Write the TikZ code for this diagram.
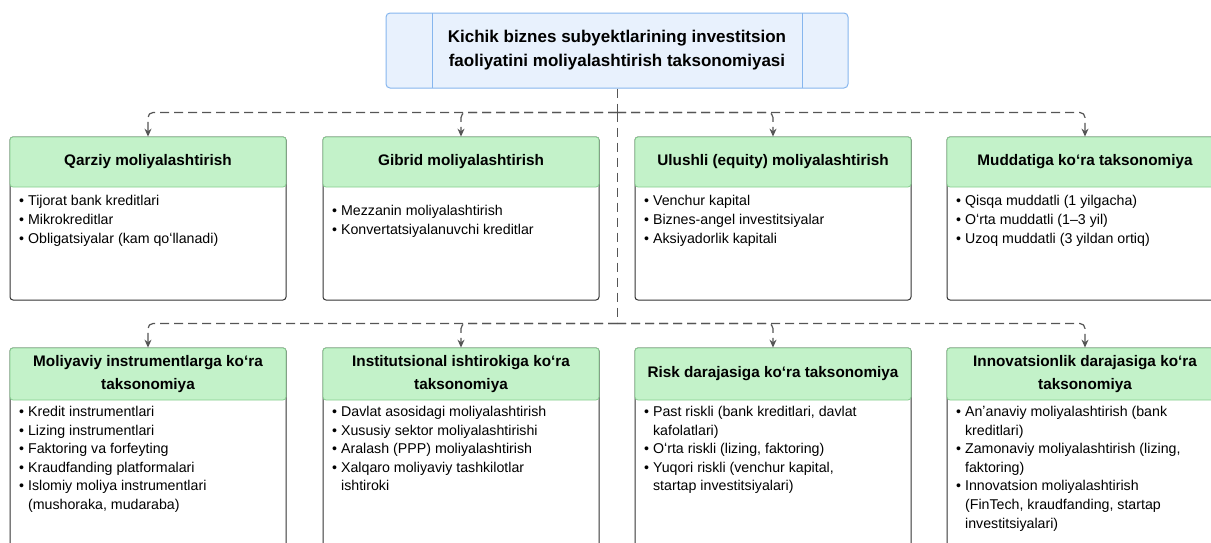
\documentclass[tikz,border=0pt]{standalone}
\usepackage{fontspec}
\setmainfont{Liberation Sans}
\usetikzlibrary{arrows.meta}
\definecolor{hdrfill}{HTML}{C3F2C9}
\definecolor{hdrline}{HTML}{86CF8F}
\definecolor{boxline}{HTML}{333333}
\definecolor{topfill}{HTML}{E8F1FD}
\definecolor{topline}{HTML}{86B6EE}
\definecolor{connclr}{HTML}{555555}
\newcommand{\bitem}{\textbullet\ }
\newcommand{\bcont}{\hphantom{\textbullet\ }}
\begin{document}
\begin{tikzpicture}[x=1pt,y=-1pt,
  bodybox/.style={draw=boxline, line width=1pt, fill=white, rounded corners=3pt, minimum width=276pt, inner sep=0pt},
  hdrbox/.style={draw=hdrline, line width=0.8pt, fill=hdrfill, rounded corners=3pt, minimum width=276pt, minimum height=50pt, inner sep=0pt, align=center, font=\fontsize{15.3}{23}\selectfont\bfseries},
  bodytext/.style={anchor=north west, inner sep=0pt, align=left, font=\fontsize{14.2}{18.6}\selectfont},
  topbox/.style={draw=topline, line width=1pt, fill=topfill, rounded corners=4pt, minimum width=462pt, minimum height=75pt, inner sep=0pt, align=center, font=\fontsize{17}{24}\selectfont\bfseries},
  conn/.style={draw=connclr, line width=1.2pt, dash pattern=on 9pt off 5pt, rounded corners=5pt},
  tip/.style={-{Stealth[length=8pt,width=7pt]}}
]
\useasboundingbox (0,0) rectangle (1211,542);
\clip (0,0) rectangle (1211,542);

% top node
\node[topbox] (top) at (617,50.5) {Kichik biznes subyektlarining investitsion\\faoliyatini moliyalashtirish taksonomiyasi};
\draw[topline, line width=1pt] (432,13) -- (432,88);
\draw[topline, line width=1pt] (802,13) -- (802,88);

% row 1 boxes
\foreach \n/\cx in {b1/148,b2/461,b3/773,b4/1085}{
  \node[bodybox, minimum height=163pt] (\n) at (\cx,218.5) {};
}
\node[hdrbox] (h1) at (148,162) {Qarziy moliyalashtirish};
\node[hdrbox] (h2) at (461,162) {Gibrid moliyalashtirish};
\node[hdrbox] (h3) at (773,162) {Ulushli (equity) moliyalashtirish};
\node[hdrbox] (h4) at (1085,162) {Muddatiga koʻra taksonomiya};

\node[bodytext] (t1) at (19,195.5) {\bitem Tijorat bank kreditlari\\\bitem Mikrokreditlar\\\bitem Obligatsiyalar (kam qoʻllanadi)};
\node[bodytext] (t2) at (332,205) {\bitem Mezzanin moliyalashtirish\\\bitem Konvertatsiyalanuvchi kreditlar};
\node[bodytext] (t3) at (644,195.5) {\bitem Venchur kapital\\\bitem Biznes-angel investitsiyalar\\\bitem Aksiyadorlik kapitali};
\node[bodytext] (t4) at (956,195.5) {\bitem Qisqa muddatli (1 yilgacha)\\\bitem Oʻrta muddatli (1–3 yil)\\\bitem Uzoq muddatli (3 yildan ortiq)};

% row 2 boxes
\foreach \n/\cx in {c1/148,c2/461,c3/773,c4/1085}{
  \node[bodybox, minimum height=220pt] (\n) at (\cx,458) {};
}
\node[hdrbox, minimum height=52pt] (g1) at (148,374) {Moliyaviy instrumentlarga koʻra\\taksonomiya};
\node[hdrbox, minimum height=52pt] (g2) at (461,374) {Institutsional ishtirokiga koʻra\\taksonomiya};
\node[hdrbox, minimum height=52pt] (g3) at (773,374) {Risk darajasiga koʻra taksonomiya};
\node[hdrbox, minimum height=52pt] (g4) at (1085,374) {Innovatsionlik darajasiga koʻra\\taksonomiya};

\node[bodytext] (s1) at (19,406) {\bitem Kredit instrumentlari\\\bitem Lizing instrumentlari\\\bitem Faktoring va forfeyting\\\bitem Kraudfanding platformalari\\\bitem Islomiy moliya instrumentlari\\\bcont(mushoraka, mudaraba)};
\node[bodytext] (s2) at (332,406) {\bitem Davlat asosidagi moliyalashtirish\\\bitem Xususiy sektor moliyalashtirishi\\\bitem Aralash (PPP) moliyalashtirish\\\bitem Xalqaro moliyaviy tashkilotlar\\\bcont ishtiroki};
\node[bodytext] (s3) at (644,406) {\bitem Past riskli (bank kreditlari, davlat\\\bcont kafolatlari)\\\bitem Oʻrta riskli (lizing, faktoring)\\\bitem Yuqori riskli (venchur kapital,\\\bcont startap investitsiyalari)};
\node[bodytext] (s4) at (956,406) {\bitem Anʼanaviy moliyalashtirish (bank\\\bcont kreditlari)\\\bitem Zamonaviy moliyalashtirish (lizing,\\\bcont faktoring)\\\bitem Innovatsion moliyalashtirish\\\bcont(FinTech, kraudfanding, startap\\\bcont investitsiyalari)};

% connectors
\coordinate (j1) at (617,112.5);
\coordinate (j2) at (617,323.5);
\draw[draw=connclr, line width=1pt, dash pattern=on 9pt off 6pt] (top.south) -- (j1);
\draw[draw=connclr, line width=1pt, dash pattern=on 9pt off 6pt] (j1) -- (j2);
\foreach \h in {h1,h2,h3,h4}{
  \draw[conn, tip] (j1) -| (\h.north);
}
\foreach \g in {g1,g2,g3,g4}{
  \draw[conn, tip] (j2) -| (\g.north);
}
\end{tikzpicture}
\end{document}
